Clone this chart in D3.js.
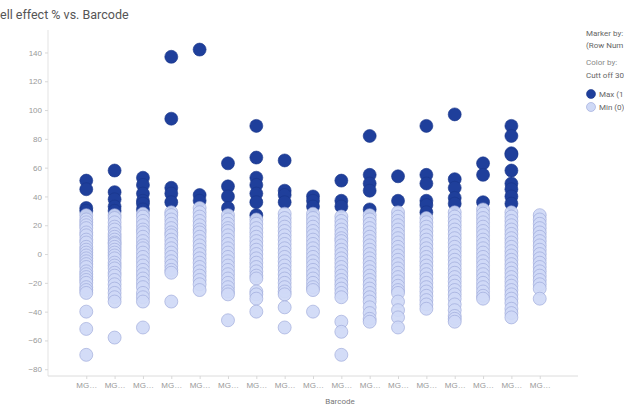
<!DOCTYPE html>
<html>
<head>
<meta charset="utf-8">
<script src="https://cdn.jsdelivr.net/npm/d3@7/dist/d3.min.js"></script>
<style>
  html, body { margin: 0; padding: 0; background: #fff; }
  svg { display: block; font-family: Roboto, "Open Sans", sans-serif; }
</style>
</head>
<body>
<svg id="chart" width="624" height="406"></svg>
<script>
// Barcodes on the x axis (labels are truncated by the axis to "MG…")
const barcodes = [
  "MG-01", "MG-02", "MG-03", "MG-04", "MG-05", "MG-06", "MG-07", "MG-08", "MG-09",
  "MG-10", "MG-11", "MG-12", "MG-13", "MG-14", "MG-15", "MG-16", "MG-17"
];

// Well effect % flagged as Max (above the cut-off), one list per barcode
const maxValues = [
  [51, 45, 32, 30],
  [58, 43, 38, 33, 30],
  [53, 48, 42, 37, 35, 31],
  [137, 94, 46, 42, 36],
  [142, 41, 37],
  [63, 47, 40, 32],
  [89, 67, 53, 48, 42, 36, 27],
  [65, 44, 41, 36],
  [40, 37, 33],
  [51, 37, 33],
  [82, 55, 49, 44, 31],
  [54, 37],
  [89, 55, 49, 37, 34, 29],
  [97, 52, 46, 39, 35],
  [63, 55, 36],
  [89, 82, 70, 69, 58, 49, 45, 40, 35],
  []
];

// Well effect % flagged as Min (below the cut-off), one list per barcode
const minValues = [
  [27, 24, 22, 20, 18, 15, 13, 10, 8, 5, 3, 1, -1, -3, -5, -7, -9, -12, -14, -16, -18, -20, -23, -25, -27, -40, -52, -70],
  [27, 25, 22, 19, 17, 14, 12, 10, 8, 7, 5, 3, 1, -1, -3, -6, -8, -10, -13, -15, -18, -21, -24, -27, -30, -33, -58],
  [28, 26, 23, 20, 17, 15, 12, 9, 6, 4, 1, -2, -5, -8, -11, -14, -17, -20, -23, -27, -30, -33, -51],
  [29, 27, 24, 21, 18, 15, 13, 10, 7, 4, 1, -2, -5, -8, -11, -13, -33],
  [32, 29, 26, 23, 20, 17, 15, 12, 9, 6, 3, 0, -3, -6, -9, -12, -15, -18, -21, -25],
  [27, 24, 21, 18, 16, 13, 10, 7, 4, 1, -2, -5, -8, -11, -14, -17, -20, -23, -26, -28, -46],
  [24, 21, 18, 15, 12, 9, 6, 3, 0, -3, -6, -9, -12, -15, -17, -26, -28, -31, -40],
  [28, 25, 22, 19, 16, 13, 10, 7, 4, 1, -2, -5, -8, -11, -14, -17, -20, -23, -26, -28, -37, -51],
  [28, 25, 22, 19, 16, 13, 10, 7, 4, 1, -2, -5, -8, -11, -14, -17, -20, -23, -25, -40],
  [26, 23, 20, 17, 14, 11, 9, 6, 3, 0, -3, -6, -9, -12, -15, -18, -21, -24, -27, -30, -47, -54, -70],
  [27, 24, 21, 18, 15, 12, 9, 6, 3, 0, -3, -6, -9, -12, -15, -18, -21, -24, -27, -30, -33, -37, -41, -45, -47],
  [29, 26, 23, 20, 17, 14, 11, 8, 5, 2, -1, -4, -7, -10, -13, -16, -19, -22, -25, -27, -33, -39, -44, -51],
  [25, 22, 19, 16, 13, 10, 7, 4, 1, -2, -5, -8, -11, -14, -17, -20, -23, -26, -29, -32, -35, -38],
  [29, 26, 23, 20, 17, 14, 11, 8, 5, 2, -1, -4, -7, -10, -13, -16, -19, -22, -25, -28, -31, -35, -39, -43, -45, -47],
  [31, 28, 25, 22, 19, 16, 13, 10, 7, 4, 1, -2, -5, -8, -11, -14, -17, -20, -23, -26, -29, -31],
  [29, 26, 23, 20, 17, 14, 11, 8, 5, 2, -1, -4, -7, -10, -13, -16, -19, -22, -25, -28, -31, -34, -38, -41, -44],
  [27, 24, 21, 18, 15, 12, 9, 6, 3, 0, -3, -6, -9, -12, -15, -18, -21, -24, -31]
];

const yTicks = [140, 120, 100, 80, 60, 40, 20, 0, -20, -40, -60, -80];

// Legend entries, shortened to what fits in the narrow panel
const legendItems = [
  { label: "Max (1", fill: "#1f3f9b", stroke: "#1a3689" },
  { label: "Min (0)", fill: "#cfd9f6", stroke: "#97a3d6" }
];

const svg = d3.select("#chart");

const plot = { left: 48, right: 578, top: 30, bottom: 376 };

const x = d3.scalePoint()
  .domain(barcodes)
  .range([plot.left, plot.right])
  .padding(1.35);

const y = d3.scaleLinear()
  .domain([-84.7, 155.6])
  .range([plot.bottom, plot.top]);

// Title
svg.append("text")
  .attr("x", 0)
  .attr("y", 19)
  .attr("fill", "#555")
  .attr("font-size", 12.5)
  .text("ell effect % vs. Barcode");

// Y axis
const yAxis = svg.append("g")
  .attr("transform", `translate(${plot.left},0)`)
  .call(d3.axisLeft(y).tickValues(yTicks).tickSize(3).tickPadding(3));
yAxis.select(".domain").attr("stroke", "#e3e3e3").attr("d", `M0,${plot.top}V${plot.bottom}`);
yAxis.selectAll(".tick line").attr("stroke", "#d8d8d8");
yAxis.selectAll(".tick text").attr("fill", "#999").attr("font-size", 8);

// X axis
const xAxis = svg.append("g")
  .attr("transform", `translate(0,${plot.bottom})`)
  .call(d3.axisBottom(x).tickSize(3).tickPadding(3).tickFormat(d => d.slice(0, 2) + "…"));
xAxis.select(".domain").attr("stroke", "#dcdcdc").attr("d", `M${plot.left},0H${plot.right}`);
xAxis.selectAll(".tick line").attr("stroke", "#d8d8d8");
xAxis.selectAll(".tick text").attr("fill", "#999").attr("font-size", 8);

svg.append("text")
  .attr("x", (plot.left + plot.right) / 2 + 27)
  .attr("y", 404)
  .attr("text-anchor", "middle")
  .attr("fill", "#777")
  .attr("font-size", 8)
  .text("Barcode");

// Points: flattened rows per barcode
const maxRows = barcodes.flatMap((b, i) => maxValues[i].map(v => ({ barcode: b, value: v })));
const minRows = barcodes.flatMap((b, i) => minValues[i].map(v => ({ barcode: b, value: v })));

const r = 6.5;

svg.append("g").selectAll("circle")
  .data(maxRows)
  .join("circle")
  .attr("cx", d => x(d.barcode))
  .attr("cy", d => y(d.value))
  .attr("r", r)
  .attr("fill", legendItems[0].fill)
  .attr("stroke", legendItems[0].stroke)
  .attr("stroke-width", 0.6);

svg.append("g").selectAll("circle")
  .data(minRows)
  .join("circle")
  .attr("cx", d => x(d.barcode))
  .attr("cy", d => y(d.value))
  .attr("r", r)
  .attr("fill", legendItems[1].fill)
  .attr("fill-opacity", 0.92)
  .attr("stroke", legendItems[1].stroke)
  .attr("stroke-width", 0.6);

// Legend panel
const legend = svg.append("g").attr("transform", "translate(586,0)");
legend.append("text").attr("x", 0).attr("y", 36).attr("font-size", 8).attr("fill", "#666").text("Marker by:");
legend.append("text").attr("x", 0).attr("y", 48).attr("font-size", 8).attr("fill", "#666").text("(Row Num");
legend.append("text").attr("x", 0).attr("y", 65).attr("font-size", 8).attr("fill", "#888").text("Color by:");
legend.append("text").attr("x", 0).attr("y", 78).attr("font-size", 8).attr("fill", "#666").text("Cutt off 30");

const li = legend.selectAll(".item")
  .data(legendItems)
  .join("g")
  .attr("class", "item")
  .attr("transform", (d, i) => `translate(0,${94 + i * 13})`);
li.append("circle")
  .attr("cx", 5).attr("cy", 0).attr("r", 4.5)
  .attr("fill", d => d.fill).attr("stroke", d => d.stroke).attr("stroke-width", 0.6);
li.append("text")
  .attr("x", 13).attr("y", 3)
  .attr("font-size", 8).attr("fill", "#666")
  .text(d => d.label);
</script>
</body>
</html>
